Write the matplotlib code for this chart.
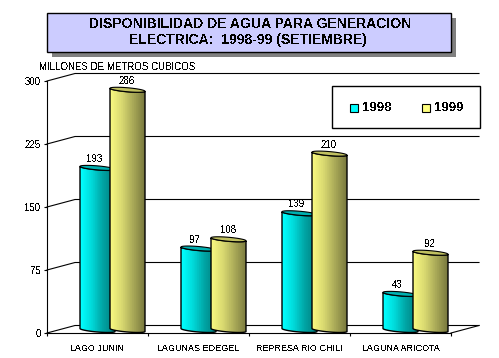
"""
Disponibilidad de agua, 3D style cylinders drawn on a flat axes
"""
import numpy as np
import matplotlib
matplotlib.use('Agg')
import matplotlib.pyplot as plt
from matplotlib.colors import LinearSegmentedColormap
from matplotlib.patches import Polygon, Rectangle

plt.rcParams['font.family'] = ['Liberation Sans', 'DejaVu Sans']
plt.rcParams['text.antialiased'] = False

categories = ['LAGO JUNIN', 'LAGUNAS EDEGEL', 'REPRESA RIO CHILI', 'LAGUNA ARICOTA']
values_1998 = [193, 97, 139, 43]
values_1999 = [286, 108, 210, 92]
y_ticks = [0, 75, 150, 225, 300]
title_lines = ['DISPONIBILIDAD DE AGUA PARA GENERACION', 'ELECTRICA:  1998-99 (SETIEMBRE)']
y_title = 'MILLONES DE METROS CUBICOS'

W, H = 499, 358
fig = plt.figure(figsize=(W / 100, H / 100), dpi=100, facecolor='white')

# overlay in pixel coordinates for the title box and legend
bg = fig.add_axes([0, 0, 1, 1], zorder=3)
bg.set_xlim(0, W)
bg.set_ylim(H, 0)
bg.axis('off')

# plot area, front plane of the fake 3D box
left, right, top, bottom = 47, 451, 81, 333
ax = fig.add_axes([left / W, 1 - bottom / H, (right - left) / W, (bottom - top) / H], zorder=2)
ax.set_xlim(0, 4)
ax.set_ylim(0, 300)
ax.patch.set_alpha(0)
px_x = 4 / (right - left)
px_y = 300 / (bottom - top)
depth_x, depth_y = 28 * px_x, 7.5 * px_y

for s in ['top', 'right']:
    ax.spines[s].set_visible(False)
for s in ['left', 'bottom']:
    ax.spines[s].set_linewidth(0.8)

ax.set_yticks(y_ticks)
ax.set_xticks(range(5))
ax.set_xticklabels([])
ax.set_xticks(np.arange(4) + 0.5, categories, minor=True)
ax.tick_params(axis='x', which='major', length=2.5, width=0.8)
ax.tick_params(axis='x', which='minor', length=0, pad=8, labelsize=6.5)
ax.tick_params(axis='y', length=2.5, width=0.8, pad=2, labelsize=7)

# back wall gridlines and the slants on the side wall
for v in y_ticks:
    ax.plot([0, depth_x, 4 + depth_x], [v, v + depth_y, v + depth_y], color='black', lw=0.8,
            clip_on=False, zorder=1)
ax.plot([4, 4 + depth_x], [0, depth_y], color='black', lw=0.8, clip_on=False, zorder=1)

cyan_map = LinearSegmentedColormap.from_list('c', ['#00ffff', '#00d8d8', '#00a4a4', '#008080'])
yellow_map = LinearSegmentedColormap.from_list('y', ['#f8f880', '#d8d870', '#aaaa58', '#7c7c40'])
grad = np.linspace(0, 1, 16).reshape(1, -1)


def cylinder(i, offset, value, cmap, top_color, z):
    # offset and width are in pixels, one category is 101 pixels wide
    x0 = i + offset * px_x
    w = 35 * px_x
    cx = x0 + w / 2
    t = np.linspace(0, np.pi, 40)
    ex = -np.cos(t) * w / 2
    arc = 2 * px_y * np.sin(t)
    tilt = 1.5 * px_y * np.cos(t)
    base = 3 * px_y
    # lower edge of the base, lower and upper edge of the cap, all tilted up to the right
    low = np.column_stack([cx + ex, base + tilt - arc])
    cap_low = np.column_stack([cx + ex, base + value + tilt - arc])
    cap_high = np.column_stack([cx + ex, base + value + tilt + arc])
    body = np.vstack([low, cap_low[::-1]])
    im = ax.imshow(grad, cmap=cmap, extent=[x0, x0 + w, 0, value + 10], aspect='auto', zorder=z)
    poly = Polygon(body, closed=True, fc='none', ec='black', lw=1.0, zorder=z + 0.2)
    ax.add_patch(poly)
    im.set_clip_path(poly)
    cap = np.vstack([cap_low, cap_high[::-1]])
    ax.add_patch(Polygon(cap, closed=True, fc=top_color, ec='black', lw=0.8, zorder=z + 0.3))


for i in range(4):
    cylinder(i, 33, values_1998[i], cyan_map, '#00b0b0', 3 + i)
    cylinder(i, 63, values_1999[i], yellow_map, '#c0c060', 3.5 + i)
    ax.text(i + 47 * px_x, values_1998[i] + 7 * px_y, str(values_1998[i]), ha='center', va='bottom',
            fontsize=7, zorder=10)
    ax.text(i + 80 * px_x, values_1999[i] + 7 * px_y, str(values_1999[i]), ha='center', va='bottom',
            fontsize=7, zorder=10)

ax.set_xlim(0, 4)
ax.set_ylim(0, 300)

# title box with its shadow
bg.add_patch(Rectangle((52, 18), 404, 39, fc='#808080', ec='none'))
bg.add_patch(Rectangle((47, 13), 404, 39, fc='#ccccff', ec='black', lw=1))
bg.text(250, 24.5, title_lines[0], ha='center', va='center', fontsize=10.1, fontweight='bold', color='black')
bg.text(248, 40, title_lines[1], ha='center', va='center', fontsize=10.1, fontweight='bold', color='black')
bg.text(39, 66.5, y_title, ha='left', va='center', fontsize=7)

# legend
bg.add_patch(Rectangle((332, 86), 148, 42, fc='white', ec='black', lw=1))
bg.add_patch(Rectangle((350, 104), 8, 8, fc='#00ffff', ec='black', lw=0.8))
bg.add_patch(Rectangle((422, 104), 8, 8, fc='#ffff80', ec='black', lw=0.8))
bg.text(362, 108, '1998', ha='left', va='center', fontsize=9.5, fontweight='bold')
bg.text(434.5, 108, '1999', ha='left', va='center', fontsize=9.5, fontweight='bold')

fig.savefig('out.png', dpi=100)
